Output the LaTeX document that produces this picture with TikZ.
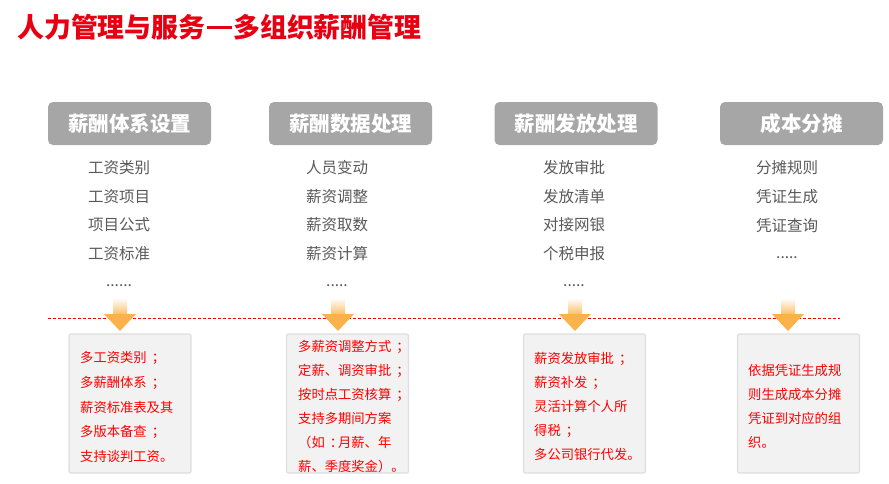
\documentclass[tikz,border=0pt]{standalone}
\usepackage{fontspec}
\setmainfont{Noto Sans CJK SC}
\usetikzlibrary{shadings}
\definecolor{titlered}{HTML}{E60012}
\definecolor{hdrgray}{HTML}{A6A6A6}
\definecolor{itemgray}{HTML}{595959}
\definecolor{boxfill}{HTML}{F2F2F2}
\definecolor{arroworange}{HTML}{FBB24A}
\tikzset{
  hdr/.style={fill=hdrgray, rounded corners=5pt, minimum width=163pt, minimum height=43pt,
    text=white, font=\fontsize{20.5}{22}\selectfont\bfseries, inner sep=0pt},
  item/.style={text=itemgray, font=\fontsize{15.5}{17}\selectfont, inner sep=0pt},
  detail/.style={fill=boxfill, draw=black!13, line width=1.2pt, rounded corners=2pt,
    minimum width=122pt, minimum height=139pt, inner sep=0pt},
  detailtext/.style={text=red, font=\fontsize{13.3}{24}\selectfont, align=left, inner sep=0pt, anchor=north west},
}
\newcommand{\fw}[1]{\makebox[1em][l]{#1}}
\newcommand{\fc}[1]{\makebox[1em][l]{\hspace{0.38em}#1}}
\newcommand{\downarrowshape}[1]{% x center
  \shade[top color=white, bottom color=arroworange, shading angle=0]
    (#1-7,298) rectangle (#1+7,318);
  \fill[arroworange] (#1-16,314) -- (#1+16,314) -- (#1,331) -- cycle;
}
\begin{document}
\begin{tikzpicture}[x=1pt,y=-1pt]
\useasboundingbox (0,0) rectangle (889,483);
\node[anchor=west, text=titlered, font=\fontsize{26.9}{28}\selectfont\bfseries, inner sep=0pt] (title) at (17,27) {人力管理与服务\hspace{0.04em}\rule[0.3em]{0.95em}{0.11em}\hspace{0.04em}多组织薪酬管理};

% headers
\node[hdr] (h1) at (129.5,123.5) {薪酬体系设置};
\node[hdr] (h2) at (350.5,123.5) {薪酬数据处理};
\node[hdr] (h3) at (576,123.5) {薪酬发放处理};
\node[hdr] (h4) at (801.5,123.5) {成本分摊};

% items
\foreach \t [count=\i] in {工资类别,工资项目,项目公式,工资标准}
  \node[item] (a\i) at (119,139+28.7*\i) {\t};
\node[item] (a5) at (119,286) {......};
\foreach \t [count=\i] in {人员变动,薪资调整,薪资取数,薪资计算}
  \node[item] (b\i) at (337,139+28.7*\i) {\t};
\node[item] (b5) at (337,286) {.....};
\foreach \t [count=\i] in {发放审批,发放清单,对接网银,个税申报}
  \node[item] (c\i) at (574,139+28.7*\i) {\t};
\node[item] (c5) at (574,286) {.....};
\foreach \t [count=\i] in {分摊规则,凭证生成,凭证查询}
  \node[item] (d\i) at (787,139+28.7*\i) {\t};
\node[item] (d4) at (787,258) {.....};

% dashed line
\coordinate (ls) at (48,318);
\coordinate (le) at (840,318);
\draw[red, line width=0.8pt, dash pattern=on 3pt off 2pt] (ls) -- (le);

% arrows
\downarrowshape{120}
\downarrowshape{338}
\downarrowshape{575}
\downarrowshape{788}

% detail boxes
\node[detail] (p1) at (130,403.5) {};
\node[detail] (p2) at (347.5,403.5) {};
\node[detail] (p3) at (584.5,403.5) {};
\node[detail] (p4) at (798.5,403.5) {};

\node[detailtext, font=\fontsize{13.3}{24.8}\selectfont] (t1) at (80,351) {多工资类别\fc{；}\\多薪酬体系\fc{；}\\薪资标准表及其\\多版本备查\fc{；}\\支持谈判工资\fw{。}};
\node[detailtext] (t2) at (298,340) {多薪资调整方式\fc{；}\\定薪\fw{、}调资审批\fc{；}\\按时点工资核算\fc{；}\\支持多期间方案\\\fw{（}如\fc{：}月薪\fw{、}年\\薪\fw{、}季度奖金\fw{）}\fw{。}};
\node[detailtext] (t3) at (534,352) {薪资发放审批\fc{；}\\薪资补发\fc{；}\\灵活计算个人所\\得税\fc{；}\\多公司银行代发\fw{。}};
\node[detailtext] (t4) at (748,364) {依据凭证生成规\\则生成成本分摊\\凭证到对应的组\\织\fw{。}};
\end{tikzpicture}
\end{document}
